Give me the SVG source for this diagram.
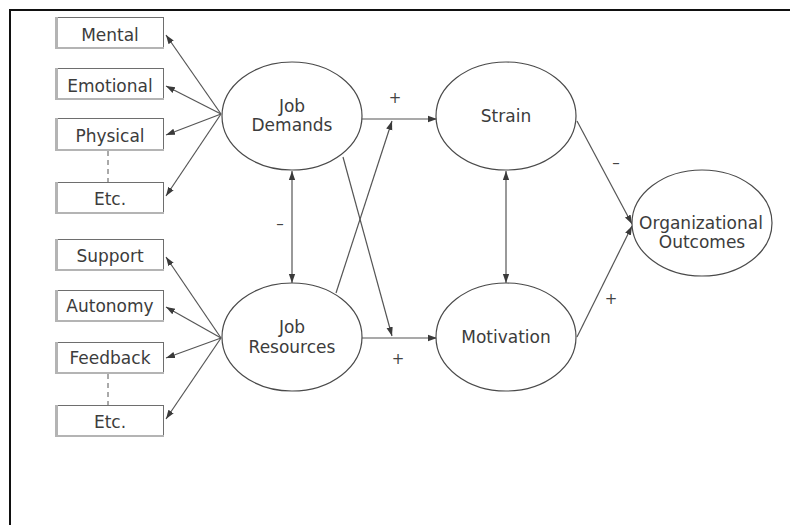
<svg xmlns="http://www.w3.org/2000/svg" width="790" height="525" viewBox="0 0 790 525">
  <style>
    text { font-family: "DejaVu Sans", Verdana, sans-serif; font-size: 17px; fill: #3c3c3c; text-anchor: middle; }
    .sign { font-size: 15px; fill: #444444; }
    .box rect.face { fill: #ffffff; stroke: #6e6e6e; stroke-width: 1; }
    .box rect.edge { fill: #b4b4b4; }
    .node ellipse { fill: #ffffff; stroke: #4a4a4a; stroke-width: 1.2; }
    .link { fill: none; stroke: #555555; stroke-width: 1.2; }
    .arrow { marker-end: url(#head); }
    .both { marker-start: url(#headStart); marker-end: url(#head); }
    .dash { fill: none; stroke: #555555; stroke-width: 1; stroke-dasharray: 5 4; }
  </style>
  <defs>
    <marker id="head" viewBox="0 0 10 10" refX="10" refY="5" markerWidth="9" markerHeight="9" markerUnits="userSpaceOnUse" orient="auto">
      <path d="M0,1.5 L10,5 L0,8.5 z" fill="#3a3a3a"/>
    </marker>
    <marker id="headStart" viewBox="0 0 10 10" refX="0" refY="5" markerWidth="9" markerHeight="9" markerUnits="userSpaceOnUse" orient="auto">
      <path d="M10,1.5 L0,5 L10,8.5 z" fill="#3a3a3a"/>
    </marker>
  </defs>

  <rect width="790" height="525" fill="#ffffff"/>
  <!-- frame -->
  <path d="M10,530 L10,10 L795,10" fill="none" stroke="#111111" stroke-width="2"/>

  <!-- indicator boxes -->
  <g id="box-mental" class="box">
    <rect class="face" x="55.5" y="17.5" width="108" height="31"/>
    <rect class="edge" x="55" y="17" width="3" height="32"/>
    <rect class="edge" x="55" y="47" width="109" height="2"/>
    <text x="110" y="41">Mental</text>
  </g>
  <g id="box-emotional" class="box">
    <rect class="face" x="55.5" y="68.5" width="108" height="31"/>
    <rect class="edge" x="55" y="68" width="3" height="32"/>
    <rect class="edge" x="55" y="98" width="109" height="2"/>
    <text x="110" y="92">Emotional</text>
  </g>
  <g id="box-physical" class="box">
    <rect class="face" x="55.5" y="118.5" width="108" height="32"/>
    <rect class="edge" x="55" y="118" width="3" height="33"/>
    <rect class="edge" x="55" y="149" width="109" height="2"/>
    <text x="110" y="142">Physical</text>
  </g>
  <g id="box-etc-demands" class="box">
    <rect class="face" x="55.5" y="182.5" width="108" height="31"/>
    <rect class="edge" x="55" y="182" width="3" height="32"/>
    <rect class="edge" x="55" y="212" width="109" height="2"/>
    <text x="110" y="205">Etc.</text>
  </g>
  <g id="box-support" class="box">
    <rect class="face" x="55.5" y="239.5" width="108" height="31"/>
    <rect class="edge" x="55" y="239" width="3" height="32"/>
    <rect class="edge" x="55" y="269" width="109" height="2"/>
    <text x="110" y="262">Support</text>
  </g>
  <g id="box-autonomy" class="box">
    <rect class="face" x="55.5" y="290.5" width="108" height="31"/>
    <rect class="edge" x="55" y="290" width="3" height="32"/>
    <rect class="edge" x="55" y="320" width="109" height="2"/>
    <text x="110" y="312">Autonomy</text>
  </g>
  <g id="box-feedback" class="box">
    <rect class="face" x="55.5" y="342.5" width="108" height="31"/>
    <rect class="edge" x="55" y="342" width="3" height="32"/>
    <rect class="edge" x="55" y="372" width="109" height="2"/>
    <text x="110" y="364">Feedback</text>
  </g>
  <g id="box-etc-resources" class="box">
    <rect class="face" x="55.5" y="405.5" width="108" height="31"/>
    <rect class="edge" x="55" y="405" width="3" height="32"/>
    <rect class="edge" x="55" y="435" width="109" height="2"/>
    <text x="110" y="428">Etc.</text>
  </g>

  <!-- connectors -->
  <g id="connectors">
    <line class="dash" x1="108" y1="151" x2="108" y2="182"/>
    <line class="dash" x1="108" y1="374" x2="108" y2="405"/>

    <line class="link arrow" x1="221" y1="114" x2="166" y2="35"/>
    <line class="link arrow" x1="221" y1="114" x2="166" y2="86"/>
    <line class="link arrow" x1="221" y1="114" x2="166" y2="135"/>
    <line class="link arrow" x1="221" y1="114" x2="166" y2="196"/>

    <line class="link arrow" x1="221" y1="338" x2="166" y2="257"/>
    <line class="link arrow" x1="221" y1="338" x2="166" y2="307"/>
    <line class="link arrow" x1="221" y1="338" x2="166" y2="358"/>
    <line class="link arrow" x1="221" y1="338" x2="166" y2="419"/>

    <line class="link arrow" x1="362" y1="119" x2="437" y2="119"/>
    <line class="link arrow" x1="362" y1="338" x2="437" y2="338"/>
    <line class="link arrow" x1="336" y1="293" x2="392" y2="121"/>
    <line class="link arrow" x1="343" y1="157" x2="392" y2="336"/>
    <line class="link both" x1="292" y1="171" x2="292" y2="283"/>

    <line class="link both" x1="506" y1="171" x2="506" y2="283"/>
    <line class="link arrow" x1="577" y1="121" x2="632" y2="224"/>
    <line class="link arrow" x1="577" y1="337" x2="632" y2="226"/>

    <text class="sign" x="395" y="103">+</text>
    <text class="sign" x="398" y="364">+</text>
    <text class="sign" x="280" y="229">–</text>
    <text class="sign" x="616" y="168">–</text>
    <text class="sign" x="611" y="304">+</text>
  </g>

  <!-- latent constructs -->
  <g id="job-demands" class="node">
    <ellipse cx="292" cy="116" rx="70" ry="54"/>
    <text x="292" y="112">Job</text>
    <text x="292" y="131">Demands</text>
  </g>
  <g id="job-resources" class="node">
    <ellipse cx="292" cy="337" rx="70" ry="54"/>
    <text x="292" y="333">Job</text>
    <text x="292" y="353">Resources</text>
  </g>
  <g id="strain" class="node">
    <ellipse cx="506" cy="116" rx="70" ry="54"/>
    <text x="506" y="122">Strain</text>
  </g>
  <g id="motivation" class="node">
    <ellipse cx="506" cy="337" rx="70" ry="54"/>
    <text x="506" y="343">Motivation</text>
  </g>
  <g id="organizational-outcomes" class="node">
    <ellipse cx="702" cy="223" rx="70" ry="53"/>
    <text x="701" y="229">Organizational</text>
    <text x="702" y="248">Outcomes</text>
  </g>
</svg>
